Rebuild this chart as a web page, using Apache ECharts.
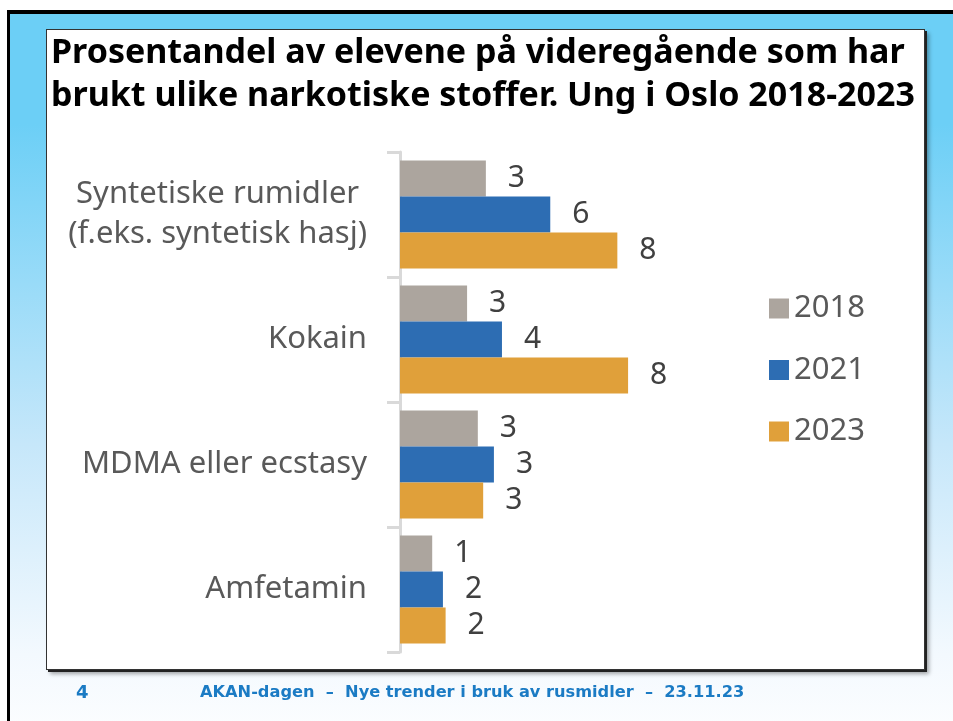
<!DOCTYPE html>
<html>
<head>
<meta charset="utf-8">
<script src="https://cdn.jsdelivr.net/npm/echarts@6/dist/echarts.min.js"></script>
<style>
  html, body { margin: 0; padding: 0; background: #fff; }
  #slide {
    position: absolute; left: 7px; top: 10px; width: 946px; height: 711px;
    box-sizing: border-box; border-top: 4px solid #000; border-left: 3px solid #000;
    background: linear-gradient(to bottom, #6ccff6 0px, #6ccff6 110px, #c6e7fa 430px, #f3f9fe 640px, #fbfdff 711px);
  }
  #box {
    position: absolute; left: 46px; top: 29px; width: 879px; height: 641px;
    box-sizing: border-box; background: #fff; border: 1px solid #333;
    box-shadow: 2px 2px 0 #222, 4px 4px 4px rgba(0,0,0,0.35);
  }
  #chart { position: absolute; left: 0; top: 0; width: 953px; height: 721px; }
</style>
</head>
<body>
<div id="slide"></div>
<div id="box"></div>
<div id="chart"></div>
<script>
// kategorier (øverst først)
const categories = [
  'Syntetiske rumidler\n(f.eks. syntetisk hasj)',
  'Kokain',
  'MDMA eller ecstasy',
  'Amfetamin'
];
const years = ['2018', '2021', '2023'];

// prosent, avlest fra stolpelengdene
const v2018 = [3.2, 2.5, 2.9, 1.2];
const v2021 = [5.6, 3.8, 3.5, 1.6];
const v2023 = [8.1, 8.5, 3.1, 1.7];

// avrundede tall som står på stolpene
const labels2018 = [3, 3, 3, 1];
const labels2021 = [6, 4, 3, 2];
const labels2023 = [8, 8, 3, 2];

const colors = ['#aca59e', '#2d6db3', '#e0a03a'];

const chart = echarts.init(document.getElementById('chart'));

const makeSeries = (name, values, labels, color) => ({
  name,
  type: 'bar',
  data: values,
  barGap: '0%',
  barCategoryGap: '13.6%',
  itemStyle: { color },
  label: {
    show: true,
    position: 'right',
    distance: 22,
    fontFamily: 'Noto Sans',
    fontSize: 30,
    color: '#404040',
    formatter: (p) => String(labels[p.dataIndex])
  }
});

const option = {
  animation: false,
  backgroundColor: 'transparent',
  color: colors,
  textStyle: { fontFamily: 'Noto Sans' },
  title: {
    text: 'Prosentandel av elevene på videregående som har\nbrukt ulike narkotiske stoffer. Ung i Oslo 2018-2023',
    left: 46,
    top: 27,
    textStyle: {
      fontFamily: 'Noto Sans',
      fontWeight: 'bold',
      fontSize: 34,
      lineHeight: 43,
      color: '#000'
    }
  },
  legend: {
    data: years,
    orient: 'vertical',
    left: 769,
    top: 293,
    padding: 0,
    icon: 'rect',
    itemWidth: 20,
    itemHeight: 20,
    itemGap: 30.5,
    textStyle: { fontFamily: 'Noto Sans', fontSize: 31, lineHeight: 28, color: '#595959', padding: [0, 0, 0, 0] }
  },
  grid: { left: 400, right: 231, top: 152, bottom: 69, containLabel: false },
  xAxis: {
    type: 'value',
    min: 0,
    max: 12,
    show: false
  },
  yAxis: {
    type: 'category',
    inverse: true,
    data: categories,
    axisLine: { show: true, lineStyle: { color: '#d9d9d9', width: 3 } },
    axisTick: { show: true, length: 13, lineStyle: { color: '#d9d9d9', width: 3 } },
    axisLabel: {
      margin: 33,
      fontFamily: 'Noto Sans',
      fontSize: 31,
      lineHeight: 40,
      color: '#595959',
      formatter: (v) => v.indexOf('\n') >= 0
        ? v.split('\n').map((s) => '{c|' + s + '}').join('\n')
        : v,
      rich: {
        c: { align: 'center', fontFamily: 'Noto Sans', fontSize: 31, lineHeight: 40, color: '#595959' }
      }
    }
  },
  series: [
    makeSeries(years[0], v2018, labels2018, colors[0]),
    makeSeries(years[1], v2021, labels2021, colors[1]),
    makeSeries(years[2], v2023, labels2023, colors[2])
  ],
  graphic: [
    {
      type: 'text', left: 76, top: 684,
      style: { text: '4', fontFamily: 'DejaVu Sans', fontWeight: 'bold', fontSize: 18, fill: '#1b7bc4' }
    },
    {
      type: 'text', left: 200, top: 685,
      style: {
        text: 'AKAN-dagen  –  Nye trender i bruk av rusmidler  –  23.11.23',
        fontFamily: 'DejaVu Sans', fontWeight: 'bold', fontSize: 16.2, fill: '#1b7bc4'
      }
    }
  ]
};

chart.setOption(option);
window.addEventListener('resize', () => chart.resize());
</script>
</body>
</html>
